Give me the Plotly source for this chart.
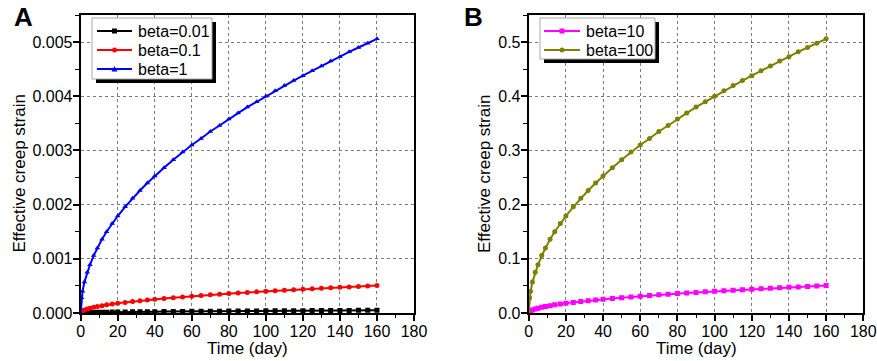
import plotly.graph_objects as go

W, H = 877, 361

time = [0, 0.5, 1, 2, 3.5, 5, 7, 9, 11.5, 14, 17, 20, 24, 28, 32, 36, 40, 45, 50, 55,
        60, 65, 70, 75, 80, 85, 90, 95, 100, 105, 110, 115, 120, 125, 130, 135, 140,
        145, 150, 155, 160]

beta_001 = [0, 0.0000028, 0.000004, 0.0000057, 0.0000075, 0.0000089, 0.0000106, 0.000012,
            0.0000136, 0.000015, 0.0000165, 0.0000179, 0.0000196, 0.0000212, 0.0000226,
            0.000024, 0.0000253, 0.0000268, 0.0000283, 0.0000297, 0.000031, 0.0000322,
            0.0000335, 0.0000346, 0.0000358, 0.0000369, 0.000038, 0.000039, 0.00004,
            0.000041, 0.000042, 0.0000429, 0.0000438, 0.0000447, 0.0000456, 0.0000465,
            0.0000473, 0.0000482, 0.000049, 0.0000498, 0.0000506]
beta_01 = [0, 0.000028, 0.00004, 0.000057, 0.000075, 0.000089, 0.000106, 0.00012,
           0.000136, 0.00015, 0.000165, 0.000179, 0.000196, 0.000212, 0.000226,
           0.00024, 0.000253, 0.000268, 0.000283, 0.000297, 0.00031, 0.000322,
           0.000335, 0.000346, 0.000358, 0.000369, 0.00038, 0.00039, 0.0004,
           0.00041, 0.00042, 0.000429, 0.000438, 0.000447, 0.000456, 0.000465,
           0.000473, 0.000482, 0.00049, 0.000498, 0.000506]
beta_1 = [0, 0.00028, 0.0004, 0.00057, 0.00075, 0.00089, 0.00106, 0.0012,
          0.00136, 0.0015, 0.00165, 0.00179, 0.00196, 0.00212, 0.00226,
          0.0024, 0.00253, 0.00268, 0.00283, 0.00297, 0.0031, 0.00322,
          0.00335, 0.00346, 0.00358, 0.00369, 0.0038, 0.0039, 0.004,
          0.0041, 0.0042, 0.00429, 0.00438, 0.00447, 0.00456, 0.00465,
          0.00473, 0.00482, 0.0049, 0.00498, 0.00506]
beta_10 = [0, 0.0028, 0.004, 0.0057, 0.0075, 0.0089, 0.0106, 0.012,
           0.0136, 0.015, 0.0165, 0.0179, 0.0196, 0.0212, 0.0226,
           0.024, 0.0253, 0.0268, 0.0283, 0.0297, 0.031, 0.0322,
           0.0335, 0.0346, 0.0358, 0.0369, 0.038, 0.039, 0.04,
           0.041, 0.042, 0.0429, 0.0438, 0.0447, 0.0456, 0.0465,
           0.0473, 0.0482, 0.049, 0.0498, 0.0506]
beta_100 = [0, 0.028, 0.04, 0.057, 0.075, 0.089, 0.106, 0.12,
            0.136, 0.15, 0.165, 0.179, 0.196, 0.212, 0.226,
            0.24, 0.253, 0.268, 0.283, 0.297, 0.31, 0.322,
            0.335, 0.346, 0.358, 0.369, 0.38, 0.39, 0.4,
            0.41, 0.42, 0.429, 0.438, 0.447, 0.456, 0.465,
            0.473, 0.482, 0.49, 0.498, 0.506]

names_A = ["beta=0.01", "beta=0.1", "beta=1"]
names_B = ["beta=10", "beta=100"]

x_ticks = [0, 20, 40, 60, 80, 100, 120, 140, 160, 180]
yA_ticks = [0.000, 0.001, 0.002, 0.003, 0.004, 0.005]
yA_labels = ["0.000", "0.001", "0.002", "0.003", "0.004", "0.005"]
yB_ticks = [0.0, 0.1, 0.2, 0.3, 0.4, 0.5]
yB_labels = ["0.0", "0.1", "0.2", "0.3", "0.4", "0.5"]

x_title = "Time (day)"
y_title = "Effective creep strain"
panel_labels = ["A", "B"]

FONT = "Liberation Sans, Arial, sans-serif"
STYLE_A = [("black", "square"), ("red", "circle"), ("blue", "triangle-up")]
STYLE_B = [("magenta", "square"), ("#808000", "circle")]

fig = go.Figure()

def add(y, name, color, symbol, xa, ya):
    fig.add_trace(go.Scatter(
        x=time, y=y, name=name, mode="lines+markers",
        line=dict(color=color, width=2),
        marker=dict(symbol=symbol, size=5, color=color),
        xaxis=xa, yaxis=ya, showlegend=False))

for y, n, (c, s) in zip([beta_001, beta_01, beta_1], names_A, STYLE_A):
    add(y, n, c, s, "x", "y")
for y, n, (c, s) in zip([beta_10, beta_100], names_B, STYLE_B):
    add(y, n, c, s, "x2", "y2")

y0, y1 = 1 - 313 / H, 1 - 15 / H
xA = [80.7 / W, 414 / W]
xB = [528.7 / W, 863.3 / W]

common_axis = dict(
    showline=True, linecolor="black", linewidth=2, mirror=True, automargin=False,
    ticks="outside", ticklen=6, tickwidth=1.5, tickcolor="black",
    showgrid=True, gridcolor="#7a7a7a", griddash="dot", gridwidth=1,
    zeroline=False, tickfont=dict(size=16, color="black", family=FONT),
)

xax = dict(common_axis, range=[0, 180], tickvals=x_ticks, ticklabelstandoff=-3,
           minor=dict(ticks="outside", ticklen=3, tickwidth=1, tickcolor="black", dtick=10, tick0=0, showgrid=False))


def px(x):
    return x / W


def py(y):
    return 1 - y / H


shapes = []
annotations = []


# ---- boxed legends with drop shadow ----
def legend_box(left, top, right, bottom, rows_y, line_x0, line_x1, text_x, names, styles):
    shapes.append(dict(type="rect", xref="paper", yref="paper", layer="above",
                       x0=px(left + 4), x1=px(right + 4), y0=py(bottom + 4), y1=py(top + 4),
                       fillcolor="black", line=dict(width=0)))
    shapes.append(dict(type="rect", xref="paper", yref="paper", layer="above",
                       x0=px(left), x1=px(right), y0=py(bottom), y1=py(top),
                       fillcolor="white", line=dict(color="#a8a8a8", width=1)))
    for ry, name, (color, sym) in zip(rows_y, names, styles):
        shapes.append(dict(type="line", xref="paper", yref="paper", layer="above",
                           x0=px(line_x0), x1=px(line_x1), y0=py(ry), y1=py(ry),
                           line=dict(color=color, width=2)))
        cx = (line_x0 + line_x1) / 2
        r = 2.5
        if sym == "square":
            shapes.append(dict(type="rect", xref="paper", yref="paper", layer="above",
                               x0=px(cx - r), x1=px(cx + r), y0=py(ry + r), y1=py(ry - r),
                               fillcolor=color, line=dict(width=0)))
        elif sym == "circle":
            shapes.append(dict(type="circle", xref="paper", yref="paper", layer="above",
                               x0=px(cx - r), x1=px(cx + r), y0=py(ry + r), y1=py(ry - r),
                               fillcolor=color, line=dict(width=0)))
        else:
            path = "M {},{} L {},{} L {},{} Z".format(
                px(cx - 3), py(ry + 2.5), px(cx + 3), py(ry + 2.5), px(cx), py(ry - 3))
            shapes.append(dict(type="path", xref="paper", yref="paper", layer="above",
                               path=path, fillcolor=color, line=dict(width=0)))
        annotations.append(dict(text=name, x=px(text_x), y=py(ry + 0.5), xref="paper", yref="paper",
                                xanchor="left", yanchor="middle", showarrow=False,
                                font=dict(size=16, color="black", family=FONT)))


legend_box(92, 18, 212, 79, [31, 50, 69], 97, 132, 136, names_A, STYLE_A)
legend_box(540, 18, 655, 59, [31, 50], 544, 580, 584, names_B, STYLE_B)

title_font = dict(size=17, color="black", family=FONT)
for cx, ycx in [(247.3, 18.5), (696, 484)]:
    annotations.append(dict(text=x_title, x=px(cx), y=py(348), xref="paper", yref="paper",
                            xanchor="center", yanchor="middle", showarrow=False, font=title_font))
    annotations.append(dict(text=y_title, x=px(ycx), y=py(174), xref="paper", yref="paper",
                            xanchor="center", yanchor="middle", showarrow=False,
                            textangle=-90, font=title_font))

for lab, lx in zip(panel_labels, [12, 462]):
    annotations.append(dict(text="<b>%s</b>" % lab, x=px(lx), y=py(17), xref="paper", yref="paper",
                            xanchor="left", yanchor="middle", showarrow=False,
                            font=dict(size=26, color="black", family=FONT)))

fig.update_layout(
    width=W, height=H,
    margin=dict(l=0, r=0, t=0, b=0, autoexpand=False),
    paper_bgcolor="white", plot_bgcolor="white",
    font=dict(family=FONT, color="black"),
    showlegend=False,
    xaxis=dict(xax, domain=xA, anchor="y"),
    xaxis2=dict(xax, domain=xB, anchor="y2"),
    yaxis=dict(common_axis, domain=[y0, y1], anchor="x", range=[0, 0.0055],
               tickvals=yA_ticks, ticktext=yA_labels, ticklabelstandoff=-3,
               minor=dict(ticks="outside", ticklen=4, tickwidth=1, tickcolor="black", dtick=0.0005, tick0=0, showgrid=False)),
    yaxis2=dict(common_axis, domain=[y0, y1], anchor="x2", range=[0, 0.55],
                tickvals=yB_ticks, ticktext=yB_labels, ticklabelstandoff=-3,
                minor=dict(ticks="outside", ticklen=4, tickwidth=1, tickcolor="black", dtick=0.05, tick0=0, showgrid=False)),
    shapes=shapes,
    annotations=annotations,
)

fig.write_html("out.html")
